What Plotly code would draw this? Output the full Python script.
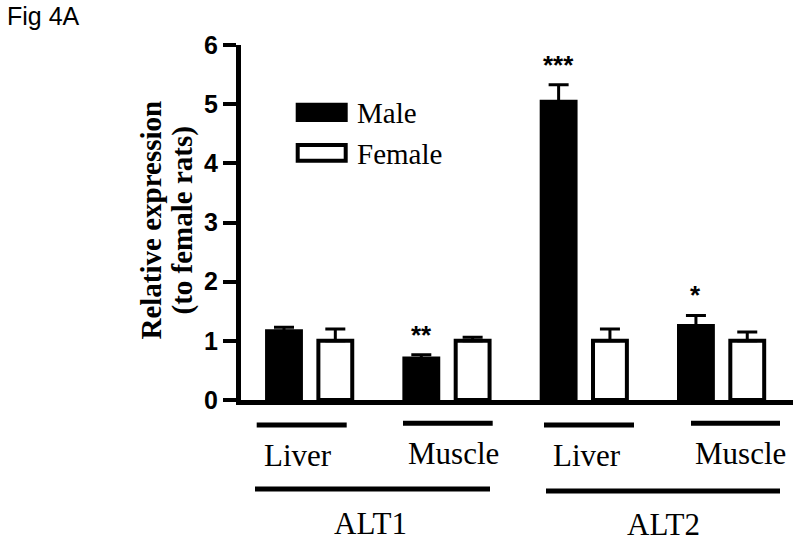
import plotly.graph_objects as go

# data
groups = ["ALT1 Liver", "ALT1 Muscle", "ALT2 Liver", "ALT2 Muscle"]
male = [1.16, 0.70, 5.04, 1.25]
male_sem = [0.07, 0.065, 0.29, 0.18]
female = [1.00, 1.00, 1.00, 1.00]
female_sem = [0.20, 0.06, 0.20, 0.15]
stars = ["", "**", "***", "*"]
y_ticks = [0, 1, 2, 3, 4, 5, 6]

W, H = 800, 542
L, R, T, B = 241, 7, 45, 142
SERIF = "Liberation Serif, Times New Roman, serif"
SANS = "Liberation Sans, Arial, sans-serif"


def px_x(px):
    return (px - L) / (W - L - R)


def px_y(py):
    return (H - B - py) / (H - T - B)


fig = go.Figure()
fig.add_trace(go.Bar(
    x=groups, y=male, name="Male",
    marker=dict(color="black", line=dict(color="black", width=4)),
    error_y=dict(type="data", array=male_sem, arrayminus=[0] * len(male),
                 symmetric=False, color="black", thickness=3, width=10),
))
fig.add_trace(go.Bar(
    x=groups, y=female, name="Female",
    marker=dict(color="white", line=dict(color="black", width=4)),
    error_y=dict(type="data", array=female_sem, arrayminus=[0] * len(female),
                 symmetric=False, color="black", thickness=3, width=10),
))

# significance marks above the male bars
for i, s in enumerate(stars):
    if s:
        fig.add_annotation(x=i - 0.187, y=male[i] + male_sem[i], text="<b>%s</b>" % s,
                           showarrow=False, yanchor="bottom", yshift=3,
                           font=dict(family=SANS, size=26, color="black"))

# hand-drawn style legend
for (y0, y1), fill, label in [((102.7, 122), "black", "Male"), ((143, 162.7), "white", "Female")]:
    fig.add_shape(type="rect", xref="paper", yref="paper",
                  x0=px_x(297.7), x1=px_x(345.7), y0=px_y(y1 - 2), y1=px_y(y0 + 2),
                  fillcolor=fill, line=dict(color="black", width=4))
    fig.add_annotation(xref="paper", yref="paper", x=px_x(355), y=px_y((y0 + y1) / 2 + 1),
                       text=label, showarrow=False, xanchor="left", yanchor="middle",
                       font=dict(family=SERIF, size=29, color="black"))

# tissue / gene labels with bars underneath the axis
under = [
    (256.7, 346.7, 425, "Liver", 298.3, 455),
    (403, 492.7, 423.3, "Muscle", 453, 453.3),
    (544, 634, 425, "Liver", 586.7, 455),
    (691, 780, 423.3, "Muscle", 740.8, 453.3),
    (255, 490, 489, "ALT1", 370.8, 523),
    (546, 780, 491, "ALT2", 663.3, 524),
]
for x0, x1, ly, txt, tx, ty in under:
    fig.add_shape(type="line", xref="paper", yref="paper",
                  x0=px_x(x0), x1=px_x(x1), y0=px_y(ly), y1=px_y(ly),
                  line=dict(color="black", width=5))
    fig.add_annotation(xref="paper", yref="paper", x=px_x(tx), y=px_y(ty),
                       text=txt, showarrow=False, xanchor="center", yanchor="middle",
                       font=dict(family=SERIF, size=31, color="black"))

# y axis title, two rotated lines
for txt, cx in [("Relative expression", 150), ("(to female rats)", 182)]:
    fig.add_annotation(xref="paper", yref="paper", x=px_x(cx), y=px_y(220.5),
                       text="<b>%s</b>" % txt, showarrow=False, textangle=-90,
                       xanchor="center", yanchor="middle",
                       font=dict(family=SERIF, size=29, color="black"))

fig.add_annotation(xref="paper", yref="paper", x=px_x(5), y=px_y(16),
                   text="Fig 4A", showarrow=False, xanchor="left", yanchor="middle",
                   font=dict(family=SANS, size=25, color="black"))

fig.update_layout(
    width=W, height=H,
    margin=dict(l=L, r=R, t=T, b=B),
    plot_bgcolor="white", paper_bgcolor="white",
    barmode="group", bargap=0.2525, bargroupgap=0.34,
    showlegend=False,
)
fig.update_xaxes(type="category", range=[-0.5, 3.52], showline=True, linewidth=5,
                 linecolor="black", showticklabels=False, ticks="", showgrid=False,
                 zeroline=False)
fig.update_yaxes(range=[0, 6], tickvals=y_ticks, showline=True, linewidth=5,
                 linecolor="black", ticks="outside", ticklen=13, tickwidth=4,
                 tickcolor="black", showgrid=False, zeroline=False,
                 tickfont=dict(family=SANS, size=25, color="black", weight="bold"))

fig.write_html("out.html", config={"displayModeBar": False},
               post_script="document.body.style.margin='0';")
